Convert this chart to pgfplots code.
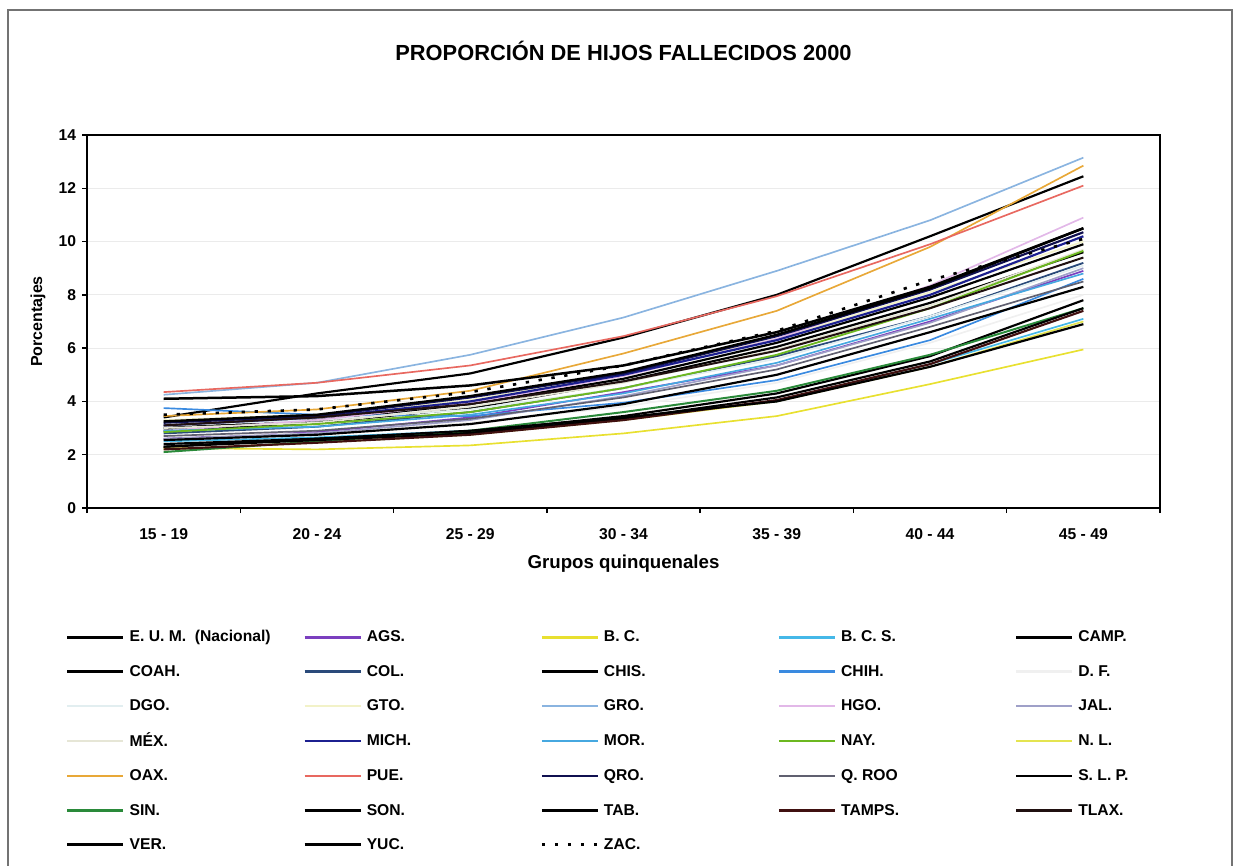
\documentclass[border=0pt]{standalone}
\usepackage{pgfplots}
\usepackage{pgfplotstable}
\pgfplotsset{compat=1.18}
\usepackage{fontspec}
\setmainfont{Liberation Sans}

\definecolor{cAGS}{HTML}{7B3FBF}
\definecolor{cBC}{HTML}{E8E030}
\definecolor{cBCS}{HTML}{45B8E8}
\definecolor{cCOL}{HTML}{2A4A7A}
\definecolor{cCHIH}{HTML}{3A8AE0}
\definecolor{cDF}{HTML}{F0F0F0}
\definecolor{cDGO}{HTML}{E2EEF0}
\definecolor{cGTO}{HTML}{F2F2C8}
\definecolor{cGRO}{HTML}{8AB4E0}
\definecolor{cHGO}{HTML}{E2B8E8}
\definecolor{cJAL}{HTML}{9FA0C8}
\definecolor{cMEX}{HTML}{E6E6D6}
\definecolor{cMICH}{HTML}{1C2090}
\definecolor{cMOR}{HTML}{46A8E0}
\definecolor{cNAY}{HTML}{6CB820}
\definecolor{cNL}{HTML}{E4E450}
\definecolor{cOAX}{HTML}{E8A838}
\definecolor{cPUE}{HTML}{E86860}
\definecolor{cQRO}{HTML}{101050}
\definecolor{cQROO}{HTML}{606070}
\definecolor{cSIN}{HTML}{2A8A3A}
\definecolor{cTAMPS}{HTML}{401010}
\definecolor{cTLAX}{HTML}{201010}

% proporcion de hijos fallecidos por grupo de edad (0 = 15-19 ... 6 = 45-49)
\pgfplotstableread{
x EUM  AGS  BC   BCS  CAMP COAH COL  CHIS  CHIH DF   DGO  GTO  GRO   HGO  JAL  MEX  MICH MOR  NAY  NL   OAX   PUE  QRO   QROO SLP  SIN  SON  TAB  TAMPS TLAX VER  YUC  ZAC
0 2.9  2.6  2.25 2.5  3.0  2.3  2.8  3.4   3.75 2.7  3.1  3.3  4.25  2.9  2.6  3.0  3.1  2.9  2.85 2.2  3.45  4.35 3.2   2.7  3.25 2.1  2.3  2.55 2.2   3.1  4.1  2.4  3.5
1 3.2  2.85 2.2  2.65 3.3  2.6  3.05 4.3   3.5  2.8  3.3  3.5  4.7   3.3  2.8  3.2  3.4  3.05 3.15 2.45 3.7   4.7  3.45  2.9  3.5  2.5  2.55 2.75 2.45  3.4  4.2  2.6  3.7
2 3.75 3.4  2.35 2.9  3.9  2.85 3.6  5.05  3.45 3.2  3.7  4.05 5.75  3.95 3.3  3.8  4.0  3.5  3.6  2.75 4.4   5.35 4.15  3.35 4.2  2.9  2.8  3.15 2.75  3.9  4.6  2.9  4.35
3 4.75 4.35 2.8  3.35 4.85 3.45 4.5  6.4   3.95 3.8  4.5  5.05 7.15  4.95 4.2  4.7  5.0  4.3  4.5  3.3  5.8   6.45 5.05  4.15 5.1  3.6  3.35 3.9  3.3   4.75 5.35 3.4  5.35
4 6.05 5.35 3.45 4.0  6.2  4.3  5.7  8.0   4.8  4.7  5.6  6.35 8.9   6.35 5.35 5.95 6.3  5.45 5.75 4.0  7.4   7.95 6.45  5.2  6.5  4.4  4.15 5.0  4.05  5.9  6.6  4.0  6.65
5 7.7  7.0  4.65 5.4  7.9  5.7  7.2  10.2  6.3  6.2  7.2  8.1  10.8  8.35 6.95 7.6  8.0  7.1  7.5  5.3  9.8   9.9  8.2   6.8  8.25 5.75 5.5  6.6  5.4   7.5  8.3  5.3  8.55
6 9.6  8.9  5.95 7.1  9.9  7.8  9.2  12.45 8.6  8.0  9.1  10.0 13.15 10.9 9.0  9.7  10.2 8.8  9.65 7.0  12.85 12.1 10.35 8.5  10.5 7.5  7.5  8.3  7.4   9.4  10.5 6.9  10.1
}\datos

\newcommand{\serie}[4]{%
  \addplot[color=#1, line width=#2, no markers] table[x=x, y=#3] {\datos};
  \addlegendentry{\makebox[107.3pt][l]{\rule[-2pt]{0pt}{9pt}\hspace{3pt}#4}}%
}

\begin{document}
\begin{tikzpicture}
\path[use as bounding box] (0,0) rectangle (743.4pt,519pt);
\draw[black!55, line width=0.7pt] (4.8pt,-5pt) -- (4.8pt,513pt) -- (739.2pt,513pt) -- (739.2pt,-5pt);
\begin{axis}[
  at={(52.2pt,214.2pt)}, anchor=south west,
  scale only axis, width=643.8pt, height=223.8pt,
  xmin=-0.5, xmax=6.5, ymin=0, ymax=14,
  xtick={0,...,6},
  xticklabels={15 - 19, 20 - 24, 25 - 29, 30 - 34, 35 - 39, 40 - 44, 45 - 49},
  minor xtick={-0.5,0.5,...,6.5},
  ytick={0,2,...,14},
  tick pos=left, tick align=outside,
  major x tick style={draw=none},
  major tick length=3pt, minor tick length=3pt,
  tick style={black, line width=0.8pt},
  axis line style={black, line width=1pt},
  ymajorgrids, grid style={black!8, line width=0.6pt},
  ticklabel style={font=\bfseries\fontsize{9.4}{11}\selectfont},
  /pgf/number format/assume math mode=true,
  xticklabel style={yshift=-6pt},
  title={PROPORCIÓN DE HIJOS FALLECIDOS 2000},
  title style={font=\bfseries\fontsize{13.1}{15}\selectfont, at={(axis description cs:0.5,1)}, anchor=center, yshift=44.4pt},
  xlabel={Grupos quinquenales},
  xlabel style={font=\bfseries\fontsize{11.2}{13}\selectfont, at={(axis description cs:0.5,0)}, anchor=center, yshift=-33.6pt},
  ylabel={Porcentajes},
  ylabel style={font=\bfseries\fontsize{9.6}{11}\selectfont, at={(axis description cs:-0.0457,0.5)}, anchor=center},
  legend columns=5,
  legend cell align=left,
  legend image code/.code={\draw[#1, line width=1.4pt] (0pt,0pt) -- (33.6pt,0pt);},
  legend style={draw=none, fill=none, at={(axis description cs:-0.0196,-0.327)}, anchor=north west,
    inner sep=0pt, row sep=12pt, column sep=0pt,
    nodes={inner sep=0pt},
    font=\bfseries\fontsize{9.4}{11}\selectfont},
]
\serie{black}{1.3pt}{EUM}{E. U. M.\ \ (Nacional)}
\serie{cAGS}{1pt}{AGS}{AGS.}
\serie{cBC}{1pt}{BC}{B. C.}
\serie{cBCS}{1pt}{BCS}{B. C. S.}
\serie{black}{1.3pt}{CAMP}{CAMP.}
\serie{black}{1.3pt}{COAH}{COAH.}
\serie{cCOL}{1.1pt}{COL}{COL.}
\serie{black}{1.3pt}{CHIS}{CHIS.}
\serie{cCHIH}{1pt}{CHIH}{CHIH.}
\serie{cDF}{1pt}{DF}{D. F.}
\serie{cDGO}{1pt}{DGO}{DGO.}
\serie{cGTO}{1pt}{GTO}{GTO.}
\serie{cGRO}{1pt}{GRO}{GRO.}
\serie{cHGO}{1pt}{HGO}{HGO.}
\serie{cJAL}{1pt}{JAL}{JAL.}
\serie{cMEX}{1pt}{MEX}{MÉX.}
\serie{cMICH}{1.3pt}{MICH}{MICH.}
\serie{cMOR}{1pt}{MOR}{MOR.}
\serie{cNAY}{1.1pt}{NAY}{NAY.}
\serie{cNL}{1pt}{NL}{N. L.}
\serie{cOAX}{1pt}{OAX}{OAX.}
\serie{cPUE}{1pt}{PUE}{PUE.}
\serie{cQRO}{1.3pt}{QRO}{QRO.}
\serie{cQROO}{1pt}{QROO}{Q. ROO}
\serie{black}{1.4pt}{SLP}{S. L. P.}
\serie{cSIN}{1.2pt}{SIN}{SIN.}
\serie{black}{1.3pt}{SON}{SON.}
\serie{black}{1.3pt}{TAB}{TAB.}
\serie{cTAMPS}{1.3pt}{TAMPS}{TAMPS.}
\serie{cTLAX}{1.2pt}{TLAX}{TLAX.}
\serie{black}{1.5pt}{VER}{VER.}
\serie{black}{1.3pt}{YUC}{YUC.}
\addplot[black, line width=1.6pt, dash pattern=on 2pt off 5.8pt, no markers] table[x=x, y=ZAC] {\datos};
\addlegendentry{\makebox[107.3pt][l]{\rule[-2pt]{0pt}{9pt}\hspace{3pt}ZAC.}}
\end{axis}
\end{tikzpicture}
\end{document}
